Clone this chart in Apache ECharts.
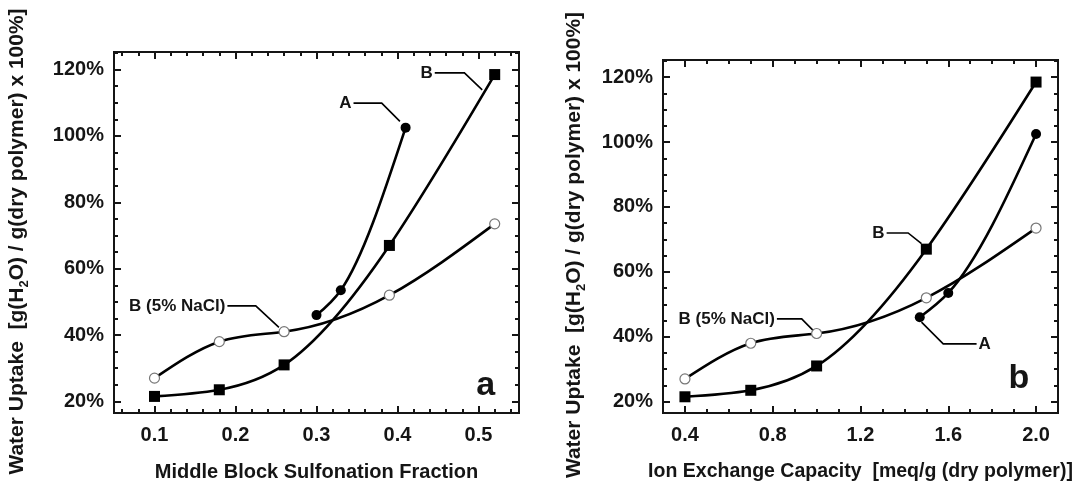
<!DOCTYPE html>
<html><head><meta charset="utf-8">
<script src="https://cdn.jsdelivr.net/npm/echarts@6/dist/echarts.min.js"></script>
<style>html,body{margin:0;padding:0;background:#fff}#c{width:1075px;height:487px}</style>
</head><body><div id="c"></div>
<script>
// ---- data ----
const sulfonation = [0.10, 0.18, 0.26, 0.39, 0.52];
const iec = [0.4, 0.7, 1.0, 1.5, 2.0];
const uptakeB = [21.5, 23.5, 31, 67, 118.5];
const uptakeNaCl = [27, 38, 41, 52, 73.5];
const sulfonationA = [0.30, 0.33, 0.41];
const iecA = [1.47, 1.6, 2.0];
const uptakeA = [46, 53.5, 102.5];

const yTicks = [20, 40, 60, 80, 100, 120];
const xTicksLeft = [0.1, 0.2, 0.3, 0.4, 0.5];
const xTicksRight = [0.4, 0.8, 1.2, 1.6, 2.0];

// annotation leader lines (data units)
const leaderLeftA = [[0.3457, 109.9], [0.3805, 109.9], [0.403, 104.4]];
const leaderLeftB = [[0.446, 119.0], [0.4826, 119.0], [0.5046, 113.9]];
const leaderLeftNaCl = [[0.190, 48.8], [0.225, 48.8], [0.2536, 42.3]];
const leaderRightB = [[1.319, 72.0], [1.417, 72.0], [1.478, 68.7]];
const leaderRightA = [[1.478, 44.5], [1.577, 37.8], [1.729, 37.8]];
const leaderRightNaCl = [[0.819, 45.5], [0.932, 45.5], [0.985, 41.9]];
const panelLeft = [0.509, 24.8];
const panelRight = [1.922, 27];

// ---- helpers ----
function range(a, b, step) {
  const out = [];
  for (let v = a; v <= b + 1e-9; v += step) out.push(Math.round(v * 1000) / 1000);
  return out;
}
const zip = (xs, ys) => xs.map((x, i) => [x, ys[i]]);
const TXT = '#151515';
const FONT = 'Liberation Sans, Arial, sans-serif';

function axesSet(dim, grid, min, max, majors, minors, fmt, name, nameGap, namePad, nameSize) {
  const pos = dim === 'x' ? ['bottom', 'top'] : ['left', 'right'];
  const list = [];
  pos.forEach((p, pi) => {
    [true, false].forEach(isMajor => {
      const main = pi === 0 && isMajor;
      const ax = {
        type: 'value', gridIndex: grid, position: p, min: min, max: max,
        axisLine: { show: true, onZero: false, lineStyle: { color: TXT, width: 2 } },
        axisTick: { show: true, inside: true, length: isMajor ? 7 : 4,
          lineStyle: { color: TXT, width: 2 }, customValues: isMajor ? majors : minors },
        axisLabel: { show: main, customValues: majors, formatter: fmt, margin: dim === 'x' ? 12 : 10,
          color: TXT, fontSize: 20, fontWeight: 'bold', fontFamily: FONT },
        splitLine: { show: false }
      };
      if (main) {
        ax.name = name;
        ax.nameLocation = 'middle';
        ax.nameGap = nameGap;
        ax.nameTextStyle = { color: TXT, fontSize: nameSize, fontWeight: 'bold', fontFamily: FONT,
          padding: namePad,
          rich: { s: { fontSize: 13, fontWeight: 'bold', fontFamily: FONT, color: TXT, padding: [14, 0, 0, 0] } } };
      }
      list.push(ax);
    });
  });
  return list;
}

const yName = 'Water Uptake  [g(H{s|2}O) / g(dry polymer) x 100%]';
const pct = v => v + '%';
const f1 = v => v.toFixed(1);

const xAxes = [].concat(
  axesSet('x', 0, 0.05, 0.55, xTicksLeft, range(0.06, 0.54, 0.02), f1, 'Middle Block Sulfonation Fraction', 49, 0, 20),
  axesSet('x', 1, 0.3, 2.1, xTicksRight, range(0.3, 2.1, 0.1), f1, 'Ion Exchange Capacity  [meq/g (dry polymer)]', 49, 0, 19.5)
);
const yAxes = [].concat(
  axesSet('y', 0, 16.5, 125.3, yTicks, range(20, 125, 5), pct, yName, 83, [0, 18, 0, 0], 21),
  axesSet('y', 1, 16.5, 125.3, yTicks, range(20, 125, 5), pct, yName, 75, [0, 17, 0, 0], 21)
);

// smooth spline curve through the measured points, drawn with the axis scales
function splineSeries(xi, xs, ys) {
  return {
    type: 'custom', xAxisIndex: xi, yAxisIndex: xi, silent: true, z: 2,
    data: zip(xs, ys),
    encode: { x: 0, y: 1 },
    renderItem: function (params, api) {
      if (params.dataIndex !== 0) return null;
      const n = xs.length;
      const h = [], s = [];
      for (let i = 0; i < n - 1; i++) { h.push(xs[i + 1] - xs[i]); s.push((ys[i + 1] - ys[i]) / h[i]); }
      // natural spline second derivatives (tridiagonal solve)
      const M = new Array(n).fill(0);
      if (n > 2) {
        const a = [], b = [], c = [], d = [];
        for (let i = 1; i < n - 1; i++) {
          a.push(h[i - 1]); b.push(2 * (h[i - 1] + h[i])); c.push(h[i]); d.push(6 * (s[i] - s[i - 1]));
        }
        const m = b.length;
        for (let i = 1; i < m; i++) {
          const w = a[i] / b[i - 1];
          b[i] -= w * c[i - 1]; d[i] -= w * d[i - 1];
        }
        const sol = new Array(m);
        sol[m - 1] = d[m - 1] / b[m - 1];
        for (let i = m - 2; i >= 0; i--) sol[i] = (d[i] - c[i] * sol[i + 1]) / b[i];
        for (let i = 0; i < m; i++) M[i + 1] = sol[i];
      }
      const p0 = api.coord([xs[0], ys[0]]);
      let path = 'M' + p0[0] + ' ' + p0[1];
      for (let i = 0; i < n - 1; i++) {
        const d0 = s[i] - h[i] * (2 * M[i] + M[i + 1]) / 6;
        const d1 = s[i] + h[i] * (M[i] + 2 * M[i + 1]) / 6;
        const c1 = api.coord([xs[i] + h[i] / 3, ys[i] + d0 * h[i] / 3]);
        const c2 = api.coord([xs[i + 1] - h[i] / 3, ys[i + 1] - d1 * h[i] / 3]);
        const e = api.coord([xs[i + 1], ys[i + 1]]);
        path += ' C' + c1[0] + ' ' + c1[1] + ' ' + c2[0] + ' ' + c2[1] + ' ' + e[0] + ' ' + e[1];
      }
      return { type: 'path', shape: { pathData: path },
        style: { fill: 'none', stroke: '#000', lineWidth: 2.6, lineJoin: 'round' } };
    }
  };
}

function markerSeries(xi, name, xs, ys, symbol, size, itemStyle) {
  return { type: 'scatter', name: name, xAxisIndex: xi, yAxisIndex: xi, z: 4, silent: true,
    data: zip(xs, ys), symbol: symbol, symbolSize: size, itemStyle: Object.assign({ opacity: 1 }, itemStyle) };
}

function panelSeries(xi, xs, xsA) {
  return [
    splineSeries(xi, xs, uptakeB),
    splineSeries(xi, xsA, uptakeA),
    splineSeries(xi, xs, uptakeNaCl),
    markerSeries(xi, 'B', xs, uptakeB, 'rect', 11, { color: '#000' }),
    markerSeries(xi, 'A', xsA, uptakeA, 'circle', 10, { color: '#000' }),
    markerSeries(xi, 'B (5% NaCl)', xs, uptakeNaCl, 'circle', 10,
      { color: '#fff', borderColor: '#777', borderWidth: 1.2 })
  ];
}
function leader(xi, coords) {
  return { type: 'lines', coordinateSystem: 'cartesian2d', xAxisIndex: xi, yAxisIndex: xi, polyline: true,
    silent: true, z: 2, lineStyle: { color: '#000', width: 1.6, opacity: 1 }, data: [{ coords: coords }] };
}
function textAt(xi, pt, text, position, size) {
  return { type: 'scatter', xAxisIndex: xi, yAxisIndex: xi, symbolSize: 0, silent: true, z: 5,
    itemStyle: { opacity: 1 },
    data: [{ value: pt, label: { show: true, formatter: text, position: position, distance: 2,
      color: TXT, opacity: 1, fontSize: size, fontWeight: 'bold', fontFamily: FONT } }] };
}

const series = [].concat(
  panelSeries(0, sulfonation, sulfonationA),
  panelSeries(4, iec, iecA),
  [
    leader(0, leaderLeftA), leader(0, leaderLeftB), leader(0, leaderLeftNaCl),
    leader(4, leaderRightA), leader(4, leaderRightB), leader(4, leaderRightNaCl),
    textAt(0, leaderLeftA[0], 'A', 'left', 17),
    textAt(0, leaderLeftB[0], 'B', 'left', 17),
    textAt(0, leaderLeftNaCl[0], 'B (5% NaCl)', 'left', 17),
    textAt(4, leaderRightB[0], 'B', 'left', 17),
    textAt(4, leaderRightA[2], 'A', 'right', 17),
    textAt(4, leaderRightNaCl[0], 'B (5% NaCl)', 'left', 17),
    textAt(0, panelLeft, 'a', 'inside', 34),
    textAt(4, panelRight, 'b', 'inside', 34)
  ]
);

const chart = echarts.init(document.getElementById('c'), null, { renderer: 'canvas' });
chart.setOption({
  backgroundColor: '#fff',
  animation: false,
  grid: [
    { left: 114, top: 52, width: 405, height: 361, containLabel: false, outerBoundsMode: 'none' },
    { left: 663, top: 60, width: 395, height: 353, containLabel: false, outerBoundsMode: 'none' }
  ],
  xAxis: xAxes,
  yAxis: yAxes,
  series: series
});
</script></body></html>
